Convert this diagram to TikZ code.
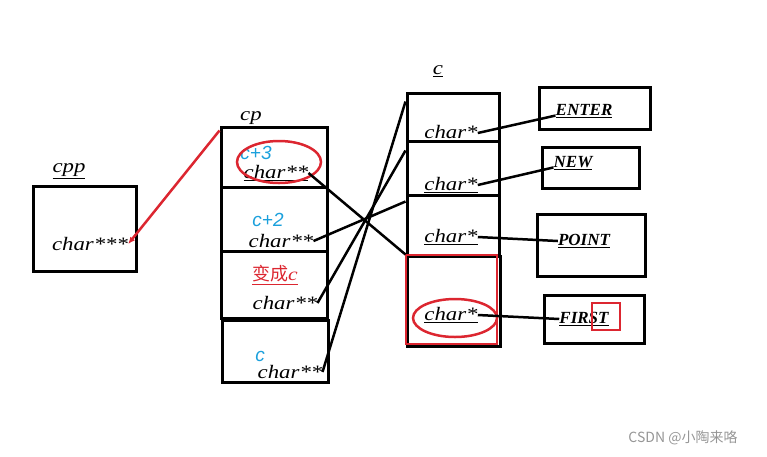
\documentclass[tikz,border=0pt]{standalone}
\usepackage{fontspec}
\setmainfont{Liberation Serif}
\newfontfamily\ptrfont[FakeStretch=1.2]{Liberation Serif}
\newfontfamily\offfont{Liberation Sans}
\newfontfamily\cjkfont{Noto Sans CJK SC}
\usepackage{xcolor}
\usetikzlibrary{arrows.meta}
\usetikzlibrary{positioning, shapes.geometric}
\definecolor{markred}{RGB}{220,38,48}
\definecolor{offblue}{RGB}{27,160,220}
\definecolor{wmgray}{RGB}{150,150,150}
\tikzset{
  cell/.style={draw, line width=3pt, inner sep=0pt},
  ptr/.style={font=\ptrfont\itshape\fontsize{19}{19}\selectfont, inner sep=0pt},
  str/.style={font=\bfseries\itshape\fontsize{17}{17}\selectfont, inner sep=0pt},
  off/.style={font=\offfont\itshape\fontsize{19}{19}\selectfont, text=offblue, inner sep=0pt},
  link/.style={line width=2.5pt},
  redring/.style={draw=markred, line width=2.5pt, ellipse, inner sep=0pt},
  redbox/.style={draw=markred, line width=2.5pt, inner sep=0pt}
}

\begin{document}
\begin{tikzpicture}[x=1pt, y=-1pt]
        \useasboundingbox (0,0) rectangle (767,456);
        % cpp
        \node[cell, minimum width=103pt, minimum height=85pt] (cppbox) at (84.5,228.5) {};
        \node[ptr] (cppname) at (69,171) {\underline{cpp}};
        \node[ptr] (cppptr) at (90,244) {char***};
        % cp
        \node[cell, minimum width=106pt, minimum height=60pt] (cpbox1) at (274,157) {};
        \node[cell, minimum width=106pt, minimum height=64pt] (cpbox2) at (274,219) {};
        \node[cell, minimum width=106pt, minimum height=67pt] (cpbox3) at (274,284.5) {};
        \node[cell, minimum width=106pt, minimum height=62pt] (cpbox4) at (275,351) {};
        \node[ptr] (cpname) at (251,119) {\underline{cp}};
        \node[off] (off3) at (256,153) {c+3};
        \node[ptr] (cpptr1) at (276,173) {\underline{char**}};
        \node[off] (off2) at (268,220) {c+2};
        \node[ptr] (cpptr2) at (281,241) {char**};
        \node[inner sep=0pt, text=markred, font=\fontsize{18}{18}\selectfont] (becomes) at (275,275) {\underline{{\cjkfont 变成}\ptrfont\itshape c}};
        \node[ptr] (cpptr3) at (285,303) {char**};
        \node[off] (off0) at (260,356) {c};
        \node[ptr] (cpptr4) at (290,372) {char**};
        \node[redring, minimum width=84pt, minimum height=42pt] (ring1) at (279,162) {};
        % c
        \node[cell, minimum width=92pt, minimum height=48pt] (cbox1) at (453,117) {};
        \node[cell, minimum width=92pt, minimum height=54pt] (cbox2) at (453,168) {};
        \node[cell, minimum width=92pt, minimum height=61pt] (cbox3) at (453,225.5) {};
        \node[cell, minimum width=93pt, minimum height=90pt] (cbox4) at (453.5,301) {};
        \node[redbox, minimum width=91pt, minimum height=89pt] (cmark) at (451.5,299.5) {};
        \node[ptr] (cname) at (438,71) {\underline{c}};
        \node[ptr] (cptr1) at (451,133) {\underline{char*}};
        \node[ptr] (cptr2) at (451,185) {\underline{char*}};
        \node[ptr] (cptr3) at (451,237) {\underline{char*}};
        \node[ptr] (cptr4) at (451,315) {\underline{char*}};
        \node[redring, minimum width=84pt, minimum height=38pt] (ring2) at (455,318) {};
        % strings
        \node[cell, minimum width=111pt, minimum height=42pt] (sbox1) at (594.5,108) {};
        \node[cell, minimum width=97pt, minimum height=41pt] (sbox2) at (590.5,167.5) {};
        \node[cell, minimum width=108pt, minimum height=62pt] (sbox3) at (591,245) {};
        \node[cell, minimum width=100pt, minimum height=48pt] (sbox4) at (594,319) {};
        \node[str] (enter) at (584,111) {\underline{ENTER}};
        \node[str] (new) at (573,163) {\underline{NEW}};
        \node[str] (point) at (584,241) {\underline{POINT}};
        \node[str] (first) at (584,319) {\underline{FIRST}};
        \node[redbox, minimum width=28pt, minimum height=27pt] (stmark) at (606,316.5) {};
        % links
        \draw[link, markred, -{Latex[length=7pt, width=6pt]}] ([yshift=-5pt]cpbox1.north west) -- (cppptr.east);
        \draw[link] (cpptr1.east) -- (cbox4.north west);
        \draw[link] (cpptr2.east) -- ([yshift=-8pt]cbox3.north west);
        \draw[link] (cpptr3.east) -- ([yshift=-11pt]cbox2.north west);
        \draw[link] (cpptr4.east) -- ([yshift=-10pt]cbox1.north west);
        \draw[link] (cptr1.east) -- (enter.base west);
        \draw[link] (cptr2.east) -- (new.base west);
        \draw[link] (cptr3.east) -- (point.west);
        \draw[link] (cptr4.east) -- (first.west);
        \node[text=wmgray, font=\cjkfont\fontsize{14}{14}\selectfont] (mark) at (683,438) {CSDN @小陶来咯};
\end{tikzpicture}
\end{document}
